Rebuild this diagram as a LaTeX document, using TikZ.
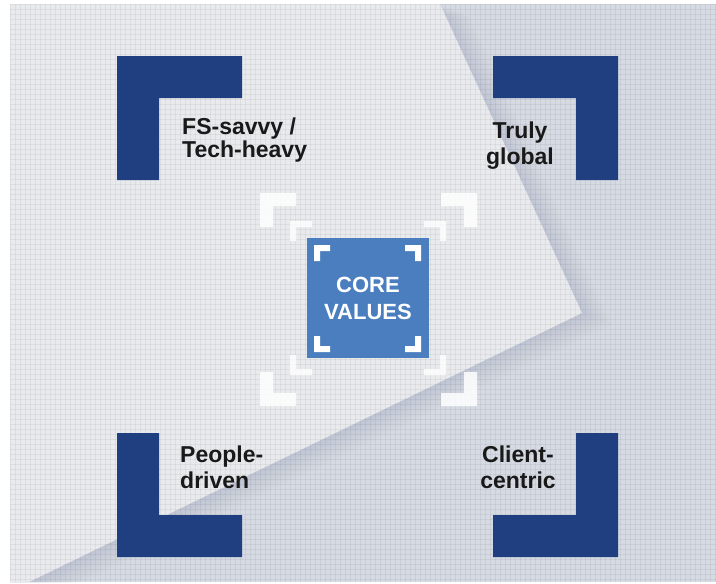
\documentclass[tikz,border=0pt]{standalone}
\usepackage{fontspec}
\setmainfont{Liberation Sans}
\usepackage{xcolor}
\usetikzlibrary{calc}
\definecolor{navy}{HTML}{1F3F80}
\definecolor{coreblue}{HTML}{4A7EBF}
\definecolor{sheet}{HTML}{E9EAED}
\definecolor{backdrop}{HTML}{D5DAE3}
\definecolor{shadow}{HTML}{8E9AB2}

\begin{document}
\begin{tikzpicture}[x=1pt,y=-1pt,
    valuelabel/.style={font=\bfseries\fontsize{23}{26}\selectfont, inner sep=0pt, text=black!90},
    corebox/.style={fill=coreblue, minimum width=122, minimum height=120, inner sep=0pt,
        font=\bfseries\fontsize{22}{27}\selectfont, text=white, align=center}]
    \useasboundingbox (0,0) rectangle (716,584);
    % coordinates
    \coordinate (frameTL) at (10,4);
    \coordinate (frameBR) at (716,582);
    \coordinate (foldtop) at (440,4);
    \coordinate (fold) at (582,313);
    \coordinate (foldbottom) at (29,582);
    % backdrop
    \fill[backdrop] (frameTL) rectangle (frameBR);
    % soft shadow of the sheet
    \begin{scope}
        \clip (frameTL) rectangle (frameBR);
        \foreach \d in {3,6,...,30} {
            \fill[shadow, opacity=0.025] ($(frameTL)+(\d,0.4*\d)$) -- ($(foldtop)+(\d,0.4*\d)$)
                -- ($(fold)+(\d,0.4*\d)$) -- ($(foldbottom)+(\d,0.4*\d)$) -- (10,600) -- cycle;
        }
    \end{scope}
    % light sheet
    \fill[sheet] (frameTL) -- (foldtop) -- (fold) -- (foldbottom) -- (10,582) -- cycle;
    % mesh texture
    \foreach \x in {10,15,...,715} {
        \draw[black, opacity=0.05, line width=1pt] (\x,4) -- (\x,582);
    }
    \foreach \y in {4,9,...,579} {
        \draw[black, opacity=0.05, line width=1pt] (10,\y) -- (716,\y);
    }
    % navy corner brackets
    \foreach \cx/\cy/\sx/\sy in {117/56/1/1, 618/56/-1/1, 117/557/1/-1, 618/557/-1/-1} {
        \fill[navy, shift={(\cx,\cy)}, xscale=\sx, yscale=\sy]
            (0,0) -- (125,0) -- (125,42) -- (42,42) -- (42,124) -- (0,124) -- cycle;
    }
    % labels (anchored on the last baseline)
    \node[valuelabel, anchor=base west, align=left, font=\bfseries\fontsize{23}{21}\selectfont] (savvy) at (182,157) {FS-savvy /\\Tech-heavy};
    \node[valuelabel, anchor=base, align=center] (global) at (520,164) {Truly\\global};
    \node[valuelabel, anchor=base west, align=left] (people) at (180,488) {People-\\driven};
    \node[valuelabel, anchor=base, align=center] (client) at (518,488) {Client-\\centric};
    % white marks round the core
    \foreach \cx/\cy/\sx/\sy in {260/193/1/1, 477/193/-1/1, 260/406/1/-1, 477/406/-1/-1} {
        \fill[white, opacity=0.85, shift={(\cx,\cy)}, xscale=\sx, yscale=\sy]
            (0,0) -- (36,0) -- (36,13) -- (13,13) -- (13,34) -- (0,34) -- cycle;
    }
    \foreach \cx/\cy/\sx/\sy in {290/221/1/1, 446/221/-1/1, 290/375/1/-1, 446/375/-1/-1} {
        \fill[white, opacity=0.8, shift={(\cx,\cy)}, xscale=\sx, yscale=\sy]
            (0,0) -- (22,0) -- (22,6) -- (6,6) -- (6,20) -- (0,20) -- cycle;
    }
    % core box
    \node[corebox] (core) at (368,298) {CORE\\VALUES};
    \foreach \cx/\cy/\sx/\sy in {314/245/1/1, 421/245/-1/1, 314/352/1/-1, 421/352/-1/-1} {
        \fill[white, shift={(\cx,\cy)}, xscale=\sx, yscale=\sy]
            (0,0) -- (16,0) -- (16,6) -- (6,6) -- (6,16) -- (0,16) -- cycle;
    }
\end{tikzpicture}
\end{document}
